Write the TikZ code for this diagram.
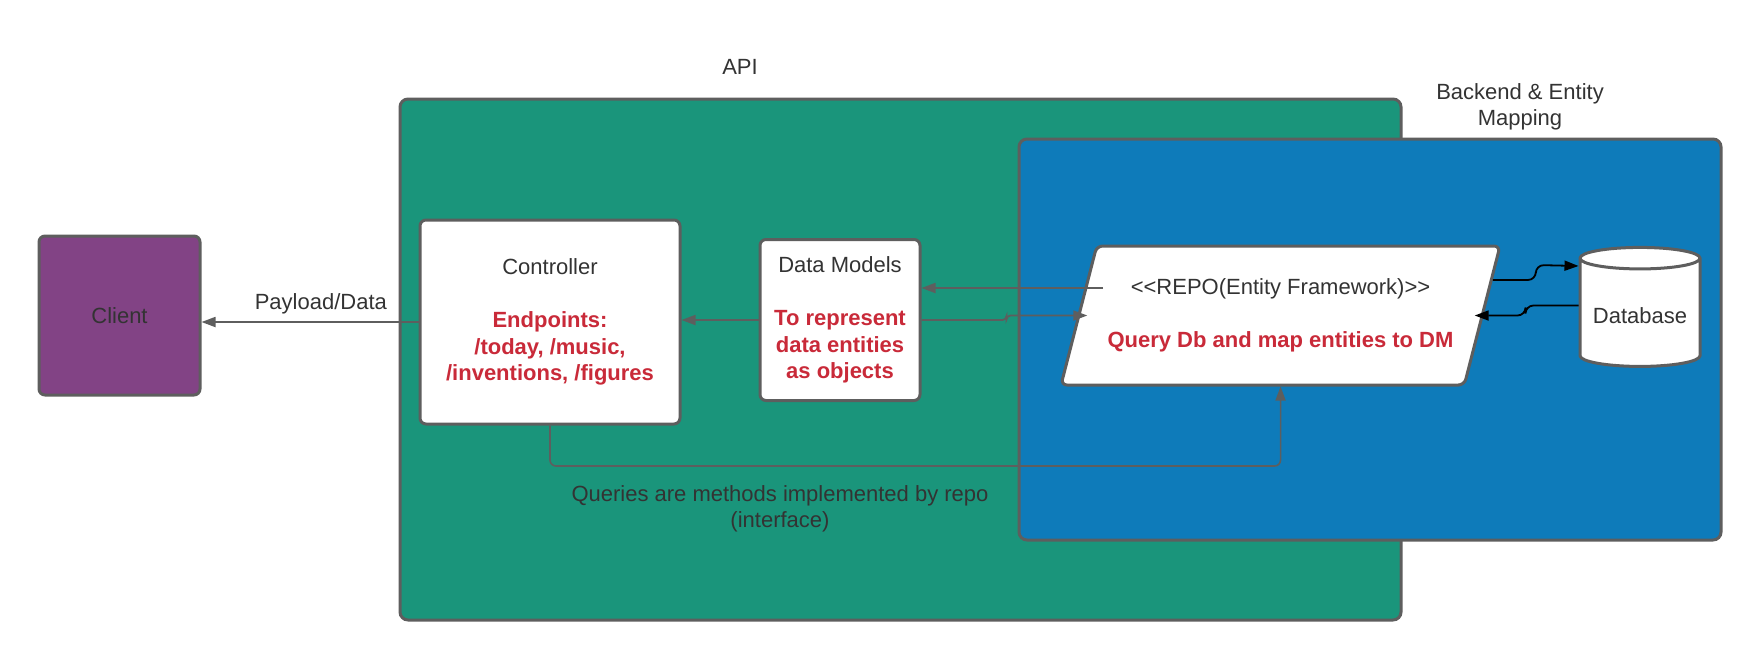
\documentclass[tikz,border=0pt]{standalone}
\usepackage{fontspec}
\setmainfont{Liberation Sans}
\usetikzlibrary{shapes.geometric, arrows.meta, positioning, calc}
\definecolor{apigreen}{HTML}{1A957B}
\definecolor{backendblue}{HTML}{0E7BBA}
\definecolor{clientpurple}{HTML}{824385}
\definecolor{edgegray}{HTML}{5E5E5E}
\definecolor{inkgray}{HTML}{333333}
\definecolor{notered}{HTML}{C92A39}
\newcommand{\redtxt}[1]{\textcolor{notered}{\textbf{#1}}}

\tikzset{
  boxfont/.style={font=\fontsize{11}{13.2}\selectfont, text=inkgray},
  box/.style={draw=edgegray, line width=1.5pt, rounded corners=3pt, fill=white, align=center, boxfont},
  container/.style={draw=edgegray, line width=1.5pt, rounded corners=4pt},
  flow/.style={draw=edgegray, line width=0.9pt, -{Triangle[length=7pt,width=5pt]}},
  dbflow/.style={draw=black, line width=0.9pt, rounded corners=4pt, -{Triangle[length=7pt,width=5pt]}}
}

\begin{document}
\begin{tikzpicture}[x=0.5pt, y=-0.5pt]
  \useasboundingbox (0,0) rectangle (1760,660);

  % Containers
  \draw[container, fill=apigreen] (400,99) rectangle (1401,620);
  \node[boxfont] (apilabel) at (740,67) {API};
  \draw[container, fill=backendblue] (1019,139) rectangle (1721,540);
  \node[boxfont, align=center] (backendlabel) at (1520,107) {Backend \& Entity\\Mapping};

  % Client side
  \node[box, fill=clientpurple, minimum width=80.5pt, minimum height=79.5pt] (client) at (119.5,315.5) {Client};

  % API boxes
  \node[box, minimum width=130pt, minimum height=102pt] (controller) at (550,322)
    {Controller\\[13.2pt]\redtxt{Endpoints:}\\\redtxt{/today, /music,}\\\redtxt{/inventions, /figures}};
  \node[box, minimum width=80pt, minimum height=80.5pt] (datamodels) at (840,320)
    {Data Models\\[13.2pt]\redtxt{To represent}\\\redtxt{data entities}\\\redtxt{as objects}};

  % Repository and database
  \node[box, trapezium, trapezium left angle=67.6, trapezium right angle=112.4, trapezium stretches body,
        minimum width=219.5pt, minimum height=69.5pt] (repo) at (1280.5,315.5)
    {{<}{<}REPO(Entity Framework){>}{>}\\[13.2pt]\redtxt{Query Db and map entities to DM}};
  \node[draw=edgegray, line width=1.5pt, fill=white, cylinder, shape border rotate=90, aspect=0.2,
        minimum width=60pt, minimum height=59.5pt, boxfont] (database) at (1640,315.5) {Database};

  % Connectors
  \draw[flow] (controller.west) -- (controller.west -| client.east)
    node[pos=0.45, above, boxfont] (payload) {Payload/Data};
  \draw[flow] (datamodels.west) -- (datamodels.west -| controller.east);
  \coordinate (repotap) at (1103,288);
  \draw[flow] (repotap) -- (repotap -| datamodels.east);
  \draw[flow, rounded corners=2pt] (datamodels.east) -- ++(85,0) -- ++(0,-4.5) -- ([xshift=5pt]repo.west);
  \draw[flow, line width=0.8pt, rounded corners=3pt] (controller.south) -- (550,466) -| (repo.south);
  \coordinate (repoout) at ($(repo.east)!0.5!(repo.top right corner)$);
  \draw[dbflow] (repoout) -- ++(43,0) -- ++(0,-15) -- ([yshift=24.75pt]database.west);
  \draw[dbflow] ([yshift=5pt]database.west) -- ++(-53,0) -- ++(0,10) -- ([xshift=-4.5pt]repo.east);

  \node[boxfont, align=center] (querynote) at (780,509) {Queries are methods implemented by repo\\(interface)};
\end{tikzpicture}
\end{document}
